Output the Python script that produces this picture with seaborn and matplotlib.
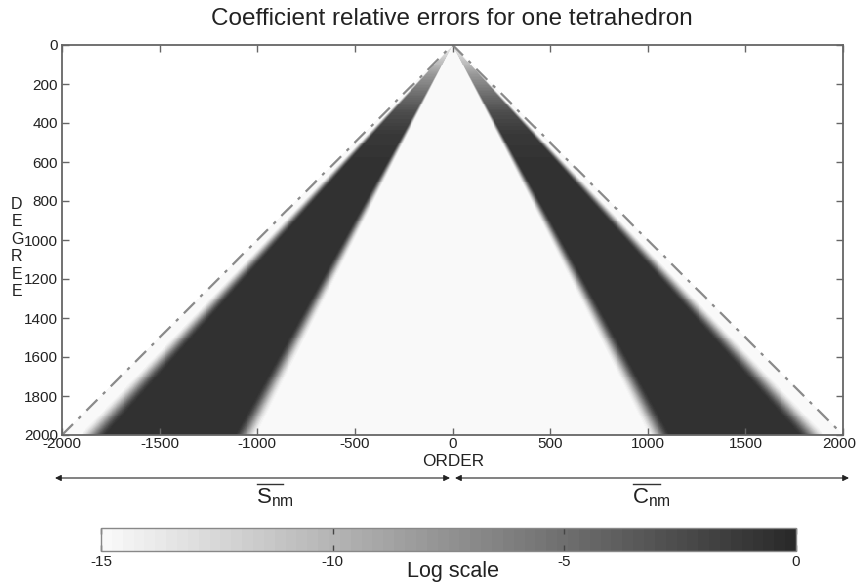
import numpy as np
import pandas as pd
import matplotlib
matplotlib.use("Agg")
import matplotlib.pyplot as plt
import matplotlib.transforms as mtransforms
from matplotlib.colors import ListedColormap
from matplotlib.lines import Line2D
import seaborn as sns

plt.rcParams['font.family'] = ['Liberation Sans', 'DejaVu Sans']
plt.rcParams['mathtext.fontset'] = 'custom'
plt.rcParams['mathtext.rm'] = 'Liberation Sans'
plt.rcParams['mathtext.it'] = 'Liberation Sans:italic'

# ---- values ----
title = "Coefficient relative errors for one tetrahedron"
order_range = [-2000, 2000]
degree_range = [0, 2000]
cell_step = 5
xtick_vals = [-2000, -1500, -1000, -500, 0, 500, 1000, 1500, 2000]
ytick_vals = [0, 200, 400, 600, 800, 1000, 1200, 1400, 1600, 1800, 2000]
cbar_ticks = [-15, -10, -5, 0]
# darkness of the error band (log10 relative error) along degree
band_knot_degree = [0, 60, 150, 250, 350, 450, 600, 2000]
band_peak_log = [-14.0, -12.0, -8.0, -5.0, -2.5, -1.2, -0.6, -0.5]
# band edges as |order|/degree ratios
outer_white_ratio = 0.96
outer_dark_ratio = 0.885
inner_dark_ratio = 0.56
inner_light_ratio = 0.50
edge_log = -15.0
center_log = -14.85
# dash-dot envelope |m| = n
env_orders = [-2000, 0, 2000]
env_degrees = [2000, 0, 2000]

# ---- build the field ----
orders = np.arange(order_range[0] + cell_step / 2, order_range[1], cell_step)
degrees = np.arange(degree_range[0] + cell_step / 2, degree_range[1], cell_step)
N, M = np.meshgrid(degrees, orders, indexing='ij')
R = np.abs(M) / N


def smooth(t):
    t = np.clip(t, 0, 1)
    return t * t * (3 - 2 * t)


peak = np.interp(N, band_knot_degree, band_peak_log)
w_out = smooth((outer_white_ratio - R) / (outer_white_ratio - outer_dark_ratio))
w_in = smooth((R - inner_light_ratio) / (inner_dark_ratio - inner_light_ratio))
w = w_out * w_in
base = np.where(R > 0.73, edge_log, center_log)
val = base + (peak - base) * w
val[R > 1] = np.nan
df = pd.DataFrame(val, index=degrees, columns=orders)

grays = np.linspace(249, 42, 64) / 255.0
cmap = ListedColormap(np.column_stack([grays, grays, grays]))

W, H = 857, 587
fig = plt.figure(figsize=(W / 100, H / 100), dpi=100)
ax = fig.add_axes([62 / W, 1 - 435 / H, 781 / W, 390 / H])
cax = fig.add_axes([101 / W, 1 - 551 / H, 695 / W, 23 / H])

sns.heatmap(df, ax=ax, cmap=cmap, vmin=-15, vmax=0, cbar_ax=cax,
            cbar_kws={'orientation': 'horizontal'},
            xticklabels=False, yticklabels=False)
ax.set_facecolor('white')

def xpos(m):
    return (np.asarray(m) - order_range[0]) / cell_step

def ypos(n):
    return (np.asarray(n) - degree_range[0]) / cell_step

ax.plot(xpos(env_orders), ypos(env_degrees), color='#8a8a8a', lw=1.6,
        linestyle=(0, (7, 3.5, 1.5, 3.5)))

ax.set_xlim(0, len(orders))
ax.set_ylim(len(degrees), 0)
ax.set_xticks(xpos(xtick_vals))
ax.set_xticklabels([str(v) for v in xtick_vals], rotation=0)
ax.set_yticks(ypos(ytick_vals))
ax.set_yticklabels([str(v) for v in ytick_vals], rotation=0)
ax.set_xlabel('')
ax.set_ylabel('')
for s in ax.spines.values():
    s.set_visible(True)
    s.set_color('#666666')
    s.set_linewidth(1.3)
ax.tick_params(direction='in', top=True, right=True, length=5, width=1,
               color='#666666', labelsize=11, labelcolor='#222222', pad=3)
ax.tick_params(axis='x', pad=1.5)
# nudge the last order label so it stays inside the figure
last = ax.get_xticklabels()[-1]
last.set_transform(last.get_transform() +
                   mtransforms.ScaledTranslation(-4 / 100, 0, fig.dpi_scale_trans))

cbar = ax.collections[0].colorbar
cbar.set_ticks(cbar_ticks)
cbar.set_ticklabels([str(v) for v in cbar_ticks])
cbar.outline.set_visible(True)
cbar.outline.set_linewidth(1.0)
cbar.outline.set_edgecolor('#888888')
cax.tick_params(direction='in', top=True, bottom=True, labelbottom=True,
                length=4, width=1, color='#444444', labelsize=11,
                labelcolor='#222222', pad=3)

fig.text(452 / W, 1 - 19 / H, title, ha='center', va='center', fontsize=17.5,
         color='#222222')
fig.text(453 / W, 1 - 462 / H, 'ORDER', ha='center', va='center',
         fontsize=12.4, color='#222222')
fig.text(17 / W, 1 - 248 / H, '\n'.join('DEGREE'), ha='center', va='center',
         fontsize=11.5, linespacing=1.2, color='#222222')
fig.text(453 / W, 1 - 572 / H, 'Log scale', ha='center', va='center',
         fontsize=15.5, color='#222222')

# arrows under the order axis
arrow_kw = dict(arrowstyle='<|-|>', color='#222222', lw=0.8,
                mutation_scale=9, shrinkA=0, shrinkB=0)
fig.patches.append(matplotlib.patches.FancyArrowPatch(
    (55 / W, 1 - 478 / H), (450 / W, 1 - 478 / H),
    transform=fig.transFigure, **arrow_kw))
fig.patches.append(matplotlib.patches.FancyArrowPatch(
    (455 / W, 1 - 478 / H), (849 / W, 1 - 478 / H),
    transform=fig.transFigure, **arrow_kw))

fig.text(275 / W, 1 - 498 / H, r'$\mathrm{S}_{\mathrm{nm}}$', ha='center',
         va='center', fontsize=16, color='#222222')
fig.text(651 / W, 1 - 498 / H, r'$\mathrm{C}_{\mathrm{nm}}$', ha='center',
         va='center', fontsize=16, color='#222222')
fig.lines.append(Line2D([257 / W, 283 / W], [1 - 484 / H, 1 - 484 / H],
                        transform=fig.transFigure, color='#333333', lw=1.0))
fig.lines.append(Line2D([633 / W, 660 / W], [1 - 484 / H, 1 - 484 / H],
                        transform=fig.transFigure, color='#333333', lw=1.0))

fig.savefig('out.png', dpi=100, facecolor='white')
